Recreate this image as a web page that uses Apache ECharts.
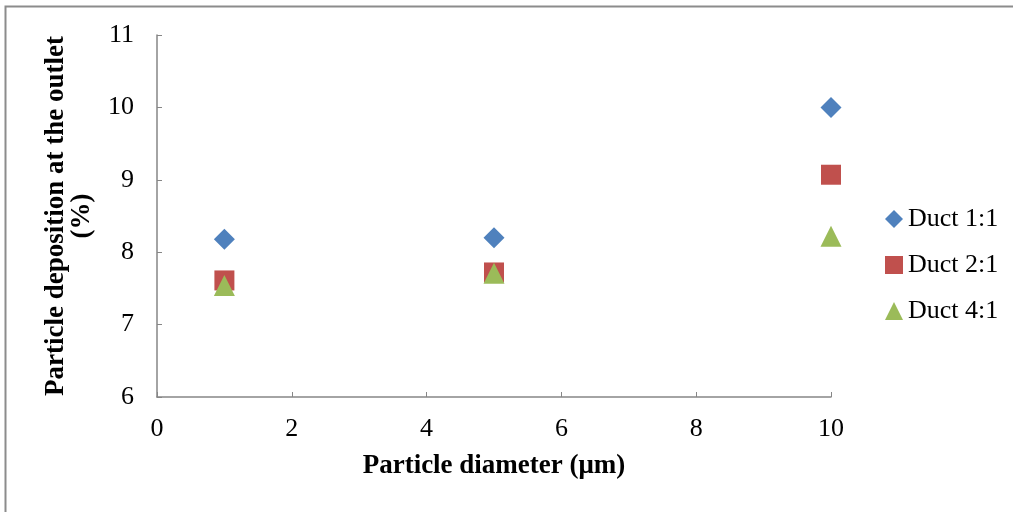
<!DOCTYPE html>
<html>
<head>
<meta charset="utf-8">
<script src="https://cdn.jsdelivr.net/npm/echarts@6/dist/echarts.min.js"></script>
<style>html,body{margin:0;padding:0;background:#fff;}#c{width:1013px;height:512px;}</style>
</head>
<body>
<div id="c"></div>
<script>
var diameters = [1, 5, 10];
var duct11 = [8.18, 8.20, 10.0];
var duct21 = [7.61, 7.72, 9.07];
var duct41 = [7.54, 7.71, 8.22];
var seriesNames = ['Duct 1:1', 'Duct 2:1', 'Duct 4:1'];
var xTitle = 'Particle diameter (μm)';
var yTitle = 'Particle deposition at the outlet\n(%)';

function pairs(vals){ return diameters.map(function(d,i){ return [d, vals[i]]; }); }

var FONT = '"Liberation Serif", "Times New Roman", serif';
var chart = echarts.init(document.getElementById('c'), null, {renderer:'canvas'});
chart.setOption({
  animation: false,
  backgroundColor: '#fff',
  graphic: [{
    type: 'rect', shape: {x: 5.5, y: 6.5, width: 1200, height: 700},
    style: {fill: 'none', stroke: '#8c8c8c', lineWidth: 2}, silent: true
  }],
  grid: {left: 157, top: 35, right: 182, bottom: 115},
  legend: {
    orient: 'vertical', left: 880, top: 201, itemGap: 20,
    itemWidth: 18, itemHeight: 18,
    textStyle: {fontFamily: FONT, fontSize: 26, color: '#000'},
    data: [
      {name: seriesNames[0], icon: 'diamond'},
      {name: seriesNames[1], icon: 'rect'},
      {name: seriesNames[2], icon: 'triangle'}
    ]
  },
  xAxis: {
    type: 'value', min: 0, max: 10, interval: 2,
    name: xTitle, nameLocation: 'middle', nameGap: 56,
    nameTextStyle: {fontFamily: FONT, fontSize: 27, fontWeight: 'bold', color: '#000'},
    axisLine: {show: true, lineStyle: {color: '#868686', width: 1.5}},
    axisTick: {show: true, inside: true, length: 5, lineStyle: {color: '#868686'}},
    axisLabel: {fontFamily: FONT, fontSize: 26, color: '#000', margin: 19},
    splitLine: {show: false}
  },
  yAxis: {
    type: 'value', min: 6, max: 11, interval: 1,
    name: yTitle, nameLocation: 'middle', nameGap: 62, nameRotate: 90,
    nameTextStyle: {fontFamily: FONT, fontSize: 27, fontWeight: 'bold', color: '#000', lineHeight: 26, align: 'center'},
    axisLine: {show: true, lineStyle: {color: '#868686', width: 1.5}},
    axisTick: {show: true, inside: true, length: 5, lineStyle: {color: '#868686'}},
    axisLabel: {fontFamily: FONT, fontSize: 26, color: '#000', margin: 23},
    splitLine: {show: false}
  },
  series: [
    {name: seriesNames[0], type: 'scatter', symbol: 'diamond', symbolSize: 21, data: pairs(duct11), itemStyle: {color: '#4F81BD', opacity: 1}},
    {name: seriesNames[1], type: 'scatter', symbol: 'rect', symbolSize: 20, data: pairs(duct21), itemStyle: {color: '#C0504D', opacity: 1}},
    {name: seriesNames[2], type: 'scatter', symbol: 'triangle', symbolSize: 21, data: pairs(duct41), itemStyle: {color: '#9BBB59', opacity: 1}}
  ]
});
</script>
</body>
</html>
